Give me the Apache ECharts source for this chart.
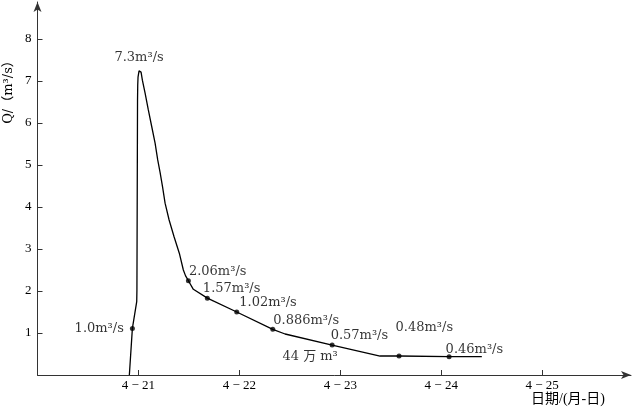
<!DOCTYPE html>
<html>
<head>
<meta charset="utf-8">
<script src="https://cdn.jsdelivr.net/npm/echarts@6/dist/echarts.min.js"></script>
<style>html,body{margin:0;padding:0;background:#fff;}#c{width:633px;height:407px;}</style>
</head>
<body>
<div id="c"></div>
<script>
// Hydrograph: day of April (fractional) vs discharge Q (m³/s)
const curveDay = [20.910, 20.940, 20.983, 20.985, 20.991, 20.993, 20.996, 21.006, 21.016, 21.026, 21.039, 21.066, 21.098, 21.132, 21.165, 21.191, 21.214, 21.239, 21.264, 21.304, 21.353, 21.405, 21.445, 21.467, 21.495, 21.544, 21.683, 21.974, 22.331, 22.453, 22.919, 23.394, 23.582, 24.078, 24.402];
const curveQ   = [0.00, 1.11, 1.745, 2.02, 6.55, 6.90, 7.09, 7.24, 7.26, 7.21, 7.02, 6.71, 6.31, 5.91, 5.52, 5.12, 4.83, 4.48, 4.09, 3.69, 3.29, 2.90, 2.50, 2.36, 2.245, 2.04, 1.83, 1.50, 1.088, 0.976, 0.714, 0.452, 0.452, 0.436, 0.436];

const dotDay    = [20.940, 21.495, 21.683, 21.974, 22.331, 22.919, 23.582, 24.078];
const dotQ      = [1.11, 2.245, 1.83, 1.50, 1.088, 0.714, 0.452, 0.436];
const dotLabels = ['1.0m³/s', '2.06m³/s', '1.57m³/s', '1.02m³/s', '0.886m³/s', '0.57m³/s', '0.48m³/s', '0.46m³/s'];

const annDay  = [21.016, 22.919];
const annQ    = [7.26, 0.714];
const annText = ['7.3m³/s', '44 万 m³'];

const xTicks = [21, 22, 23, 24, 25];
const yTicks = [1, 2, 3, 4, 5, 6, 7, 8];

// layout (label placement relative to points)
const dotLabelLayout = [
  {position: 'left', offset: [-6, 0]},
  {position: 'right', offset: [-2, -9]},
  {position: 'right', offset: [-7, -10]},
  {position: 'right', offset: [0, -9]},
  {position: 'right', offset: [-2, -9]},
  {position: 'right', offset: [-4, -9]},
  {position: 'right', offset: [-6, -28]},
  {position: 'right', offset: [-6, -7]}
];
const annOffsets = [[-1, -12], [-22, 12]];

const AXFONT = '"Liberation Serif", "Noto Sans CJK SC", serif';
const LBFONT = '"DejaVu Serif", "Noto Sans CJK SC", serif';
const chart = echarts.init(document.getElementById('c'));
chart.setOption({
  animation: false,
  backgroundColor: '#fff',
  grid: {left: 37.5, right: 2, top: 2, bottom: 32},
  xAxis: {
    type: 'value', min: 20, max: 25.88,
    splitLine: {show: false},
    axisLine: {onZero: false, lineStyle: {color: '#333', width: 1}, symbol: ['none', 'arrow'], symbolSize: [6, 10]},
    axisTick: {show: true, inside: true, length: 5, lineStyle: {color: '#333'}, customValues: xTicks},
    axisLabel: {customValues: xTicks, formatter: v => '4 − ' + v, color: '#000', fontFamily: AXFONT, fontSize: 13, margin: 4}
  },
  yAxis: {
    type: 'value', min: 0, max: 8.88,
    splitLine: {show: false},
    axisLine: {onZero: false, lineStyle: {color: '#333', width: 1}, symbol: ['none', 'arrow'], symbolSize: [6, 10]},
    axisTick: {show: true, inside: true, length: 5, lineStyle: {color: '#333'}, customValues: yTicks},
    axisLabel: {customValues: yTicks, color: '#000', fontFamily: AXFONT, fontSize: 13, margin: 6}
  },
  series: [
    {
      type: 'line', symbol: 'none', smooth: false,
      lineStyle: {color: '#000', width: 1.3},
      data: curveDay.map((d, i) => [d, curveQ[i]]),
      z: 2
    },
    {
      type: 'scatter', symbol: 'circle', symbolSize: 5,
      itemStyle: {color: '#000'},
      data: dotDay.map((d, i) => ({
        value: [d, dotQ[i]],
        label: {show: true, formatter: dotLabels[i], position: dotLabelLayout[i].position, distance: 0, offset: dotLabelLayout[i].offset}
      })),
      label: {color: '#000', fontFamily: LBFONT, fontSize: 13},
      z: 3
    },
    {
      type: 'scatter', symbolSize: 0,
      data: annDay.map((d, i) => ({
        value: [d, annQ[i]],
        label: {show: true, formatter: annText[i], position: 'inside', offset: annOffsets[i]}
      })),
      label: {color: '#000', fontFamily: LBFONT, fontSize: 13},
      z: 3
    }
  ],
  graphic: [
    {type: 'text', x: 9, y: 89, rotation: Math.PI / 2,
     style: {text: 'Q/（m³/s）', fill: '#000', font: '13px ' + LBFONT, textAlign: 'center', textVerticalAlign: 'middle'}},
    {type: 'text', x: 568, y: 399,
     style: {text: '日期/(月-日)', fill: '#000', font: '14px ' + AXFONT, textAlign: 'center', textVerticalAlign: 'middle'}}
  ]
});
</script>
</body>
</html>
